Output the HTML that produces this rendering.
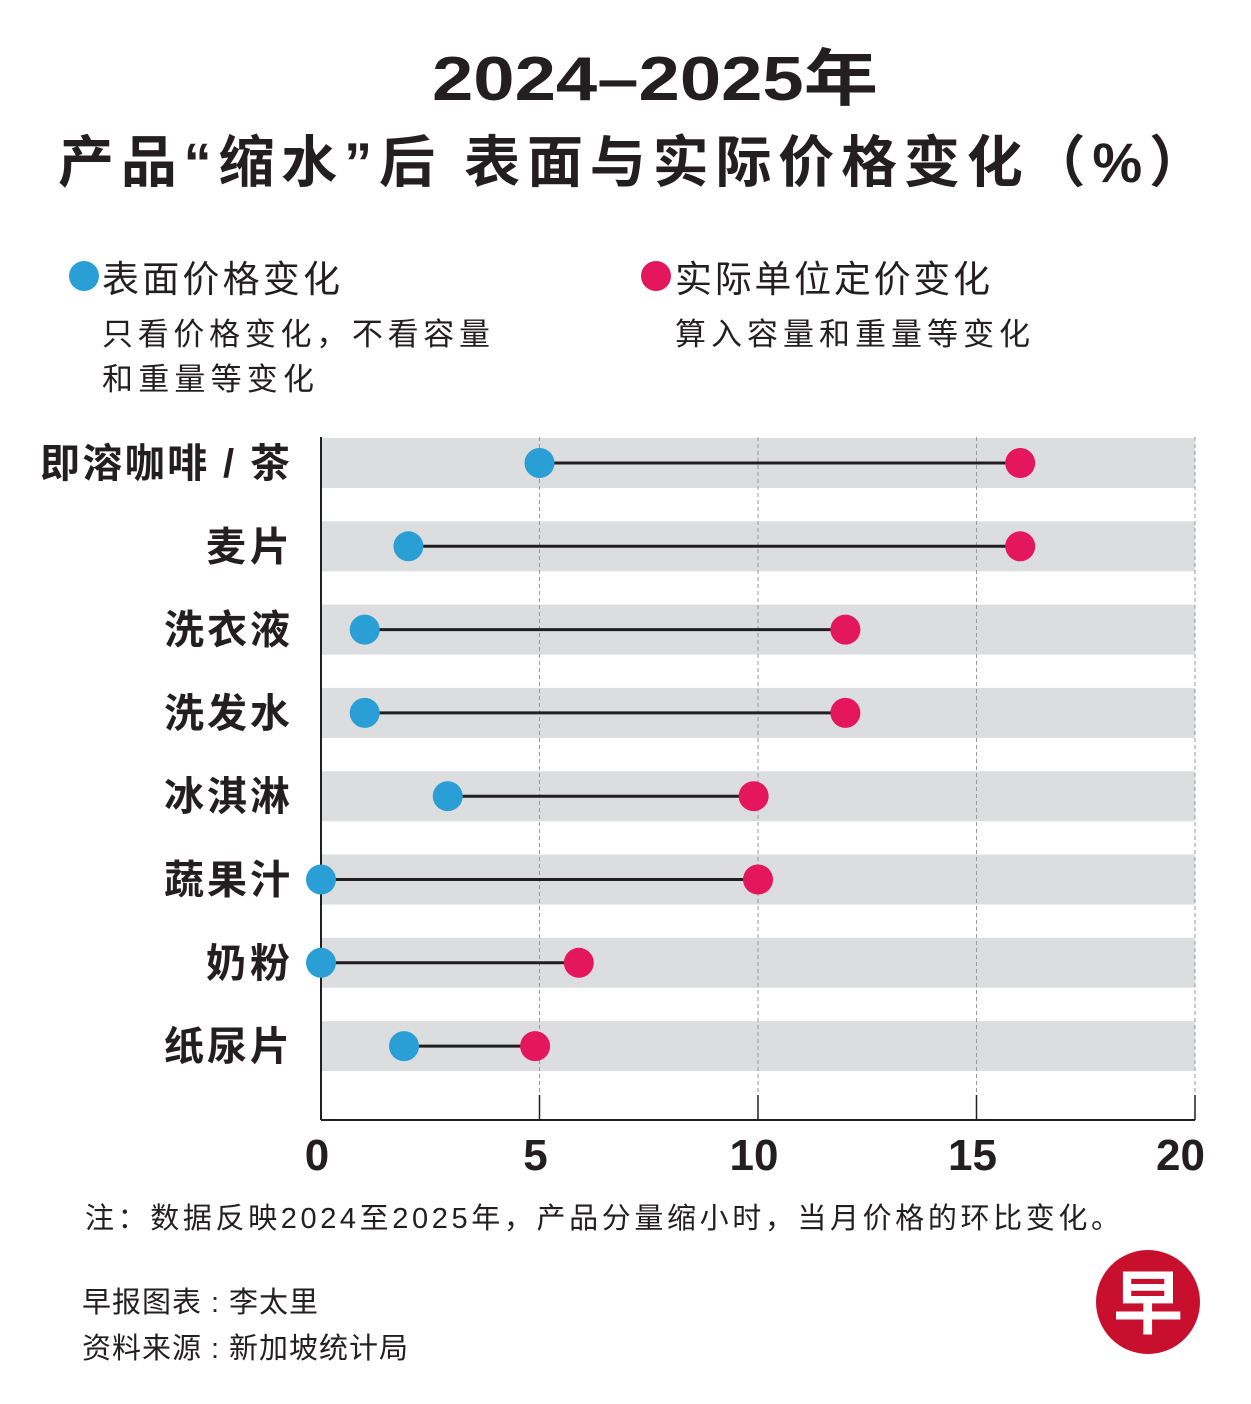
<!DOCTYPE html>
<html><head><meta charset="utf-8"><style>
body{margin:0;background:#fff;}
svg{display:block;font-family:"Liberation Sans","Noto Sans CJK SC",sans-serif;}
</style></head><body>
<svg width="1251" height="1404" viewBox="0 0 1251 1404">
<text x="432" y="100" textLength="446" lengthAdjust="spacingAndGlyphs" font-size="62" font-weight="bold" fill="#231f20">2024–2025年</text>
<text x="58" y="182" textLength="1147" lengthAdjust="spacing" font-size="56" font-weight="bold" fill="#231f20">产品“缩水”后 表面与实际价格变化（%）</text>
<g>
<circle cx="84" cy="276" r="15" fill="#2a9fd6"/>
<text x="102" y="292" textLength="238" lengthAdjust="spacing" font-size="37" fill="#231f20">表面价格变化</text>
<text x="102" y="345" textLength="388" lengthAdjust="spacing" font-size="31" fill="#231f20">只看价格变化，不看容量</text>
<text x="102" y="390" textLength="212" lengthAdjust="spacing" font-size="31" fill="#231f20">和重量等变化</text>
<circle cx="656" cy="276" r="15" fill="#e5175c"/>
<text x="675" y="292" textLength="315" lengthAdjust="spacing" font-size="37" fill="#231f20">实际单位定价变化</text>
<text x="675" y="345" textLength="355" lengthAdjust="spacing" font-size="31" fill="#231f20">算入容量和重量等变化</text>
</g>
<g id="plot"></g>
<text x="85" y="1228" textLength="1035" lengthAdjust="spacing" font-size="29" fill="#231f20">注：数据反映2024至2025年，产品分量缩小时，当月价格的环比变化。</text>
<text x="82" y="1312" textLength="236" lengthAdjust="spacing" font-size="29" fill="#231f20">早报图表 : 李太里</text>
<text x="82" y="1358" textLength="326" lengthAdjust="spacing" font-size="29" fill="#231f20">资料来源 : 新加坡统计局</text>
<g>
<circle cx="1148" cy="1302" r="52" fill="#c8102e"/>
<text x="1148" y="1328" text-anchor="middle" font-size="70" font-weight="bold" fill="#fff">早</text>
</g>
</svg>
<script>
const categories=["即溶咖啡 / 茶","麦片","洗衣液","洗发水","冰淇淋","蔬果汁","奶粉","纸尿片"];
const surfaceValues=[5.0,2.0,1.0,1.0,2.9,0,0,1.9];
const actualValues=[16,16,12,12,9.9,10,5.9,4.9];
const xTicks=[0,5,10,15,20];
const NS="http://www.w3.org/2000/svg";
const g=document.getElementById('plot');
const x0=321,x1=1195,yTop=437,yAxis=1120,rowStart=463,rowStep=83.3;
const xs=v=>x0+(v-0)/(20-0)*(x1-x0);
const ys=i=>rowStart+i*rowStep;
function mk(t,a){const e=document.createElementNS(NS,t);for(const k in a)e.setAttribute(k,a[k]);g.appendChild(e);return e;}
categories.forEach((c,i)=>{
 const r=mk('rect',{x:x0,y:ys(i)-25,width:x1-x0,height:50,fill:'#dcddde'});
 
 
});
xTicks.forEach((t,k)=>{
 if(t>0){const l=mk('line',{x1:xs(t),x2:xs(t),y1:yTop,y2:yAxis,stroke:'#999','stroke-dasharray':'4 3','stroke-width':1});
 
 
 const tk=mk('line',{x1:xs(t),x2:xs(t),y1:yAxis-25,y2:yAxis,stroke:'#231f20','stroke-width':1.5});
 
 }
 const anchor=k===xTicks.length-1?'end':'middle';
 const tx=mk('text',{x:k===xTicks.length-1?x1+10:xs(t)-4,y:1170,'text-anchor':anchor,'font-size':44,'font-weight':'bold',fill:'#231f20'});
 tx.textContent=t;
 
 
});
const ya=mk('line',{x1:x0,x2:x0,y1:yTop,y2:yAxis,stroke:'#231f20','stroke-width':2});


const xa=mk('line',{x1:x0,x2:x1,y1:yAxis,y2:yAxis,stroke:'#231f20','stroke-width':2});


categories.forEach((c,i)=>{
 const y=ys(i);
 const n=c.replace(/ /g,'').length;
 const w=n>=5?250:n*42;
 const lb=mk('text',{x:290,y:y+14,'text-anchor':'end','font-size':40,'font-weight':'bold',fill:'#231f20',textLength:w,lengthAdjust:'spacing'});
 lb.textContent=c;
 
 
 const ln=mk('line',{x1:xs(surfaceValues[i]),x2:xs(actualValues[i]),y1:y,y2:y,stroke:'#231f20','stroke-width':3});
 
 
 const b=mk('circle',{cx:xs(surfaceValues[i]),cy:y,r:15,fill:'#2a9fd6'});
 
 
 const p=mk('circle',{cx:xs(actualValues[i]),cy:y,r:15,fill:'#e5175c'});
 
 
});
</script>
</body></html>
